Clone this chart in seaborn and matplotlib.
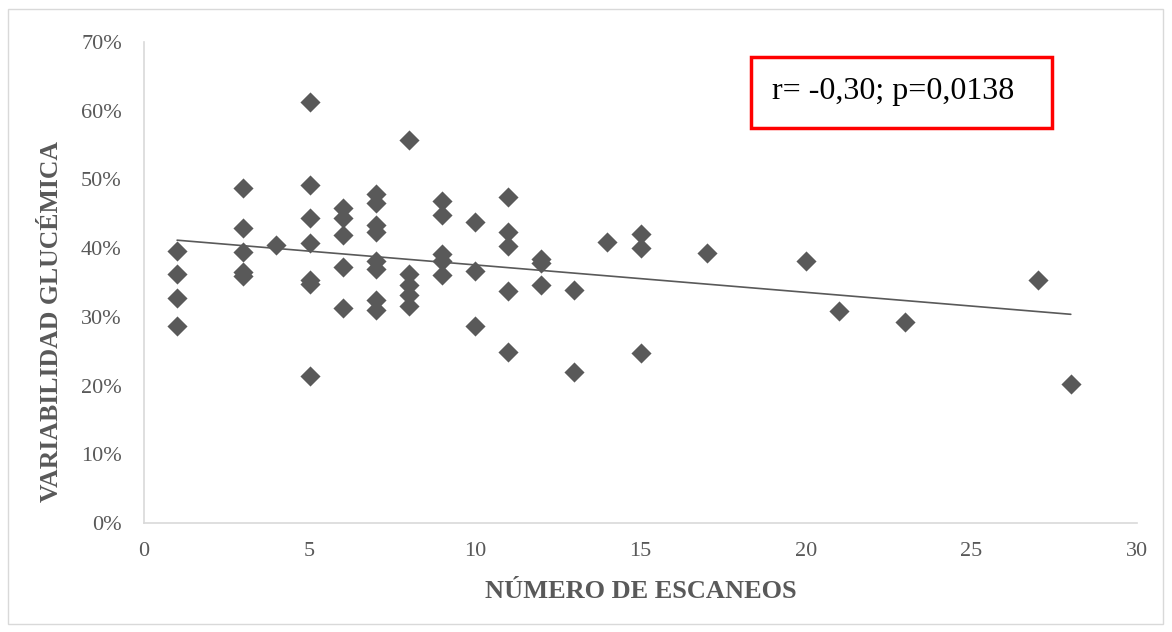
import numpy as np
import pandas as pd
import matplotlib
matplotlib.use("Agg")
import matplotlib.pyplot as plt
from matplotlib.patches import Rectangle
import seaborn as sns

# ---- data ----
escaneos = [1, 1, 1, 1,
            3, 3, 3, 3, 3,
            4,
            5, 5, 5, 5, 5, 5, 5,
            6, 6, 6, 6, 6,
            7, 7, 7, 7, 7, 7, 7, 7,
            8, 8, 8, 8, 8,
            9, 9, 9, 9, 9,
            10, 10, 10,
            11, 11, 11, 11, 11,
            12, 12, 12,
            13, 13,
            14,
            15, 15, 15,
            17, 20, 21, 23, 27, 28]
variabilidad = [39.6, 36.2, 32.7, 28.7,
                48.8, 43.0, 39.4, 36.6, 36.0,
                40.4,
                61.2, 49.2, 44.4, 40.7, 35.4, 34.8, 21.4,
                45.8, 44.4, 41.9, 37.2, 31.3,
                47.9, 46.5, 43.4, 42.4, 38.2, 36.9, 32.5, 31.0,
                55.7, 36.2, 34.6, 33.2, 31.6,
                46.9, 44.8, 39.2, 38.2, 36.1,
                43.8, 36.7, 28.7,
                47.4, 42.4, 40.3, 33.8, 24.9,
                38.4, 37.8, 34.6,
                33.9, 22.0,
                40.9,
                42.1, 40.0, 24.8,
                39.3, 38.1, 30.9, 29.3, 35.3, 20.2]
x_ticks = [0, 5, 10, 15, 20, 25, 30]
y_ticks = [0, 10, 20, 30, 40, 50, 60, 70]
x_label = "NÚMERO DE ESCANEOS"
y_label = "VARIABILIDAD GLUCÉMICA"
stats_text = "r= -0,30; p=0,0138"

df = pd.DataFrame({"escaneos": escaneos, "variabilidad": variabilidad})

sns.set_theme(style="white")
plt.rcParams["font.family"] = ["Liberation Serif", "DejaVu Serif"]

GREY = "#595959"
fig = plt.figure(figsize=(11.72, 6.32), dpi=100)
ax = fig.add_axes([144 / 1172, 1 - 523 / 632, (1137 - 144) / 1172, (523 - 42) / 632])

sns.regplot(data=df, x="escaneos", y="variabilidad", scatter=False, ci=None,
            ax=ax, line_kws={"color": GREY, "linewidth": 1.2})
sns.scatterplot(data=df, x="escaneos", y="variabilidad", marker="D", s=105,
                color=GREY, edgecolor=GREY, linewidth=0, ax=ax, zorder=3)

ax.set_xlim(0, 30)
ax.set_ylim(0, 70)
ax.set_xticks(x_ticks)
ax.set_yticks(y_ticks)
ax.set_xticklabels([str(v) for v in x_ticks])
ax.set_yticklabels([f"{v}%" for v in y_ticks])
ax.tick_params(axis="both", length=0, labelsize=16, colors=GREY)
ax.tick_params(axis="x", pad=14)
ax.tick_params(axis="y", pad=16)

for side in ["top", "right"]:
    ax.spines[side].set_visible(False)
for side in ["left", "bottom"]:
    ax.spines[side].set_color("#d9d9d9")
    ax.spines[side].set_linewidth(1.2)
ax.grid(False)

ax.set_xlabel(x_label, fontsize=19, fontweight="bold", color=GREY)
ax.set_ylabel(y_label, fontsize=18.5, fontweight="bold", color=GREY)
ax.xaxis.set_label_coords(0.5, -(591 - 523) / (523 - 42), transform=ax.transAxes)
ax.yaxis.set_label_coords(-(144 - 52) / (1137 - 144), (523 - 321) / (523 - 42))
ax.xaxis.label.set_va("center")
ax.yaxis.label.set_va("center")

# stats box
fig.patches.append(Rectangle((751 / 1172, 1 - 128 / 632), (1052 - 751) / 1172, (128 - 57) / 632,
                             transform=fig.transFigure, fill=False, edgecolor="#ff0000",
                             linewidth=2.5, zorder=5))
fig.text(772 / 1172, 1 - 91 / 632, stats_text, fontsize=23, color="black",
         ha="left", va="center")

# chart-area border
fig.patches.append(Rectangle((8 / 1172, 8 / 632), (1163 - 8) / 1172, (623 - 8) / 632,
                             transform=fig.transFigure, fill=False, edgecolor="#d9d9d9",
                             linewidth=1.0, zorder=0))

fig.savefig("out.png", dpi=100, facecolor="white")
